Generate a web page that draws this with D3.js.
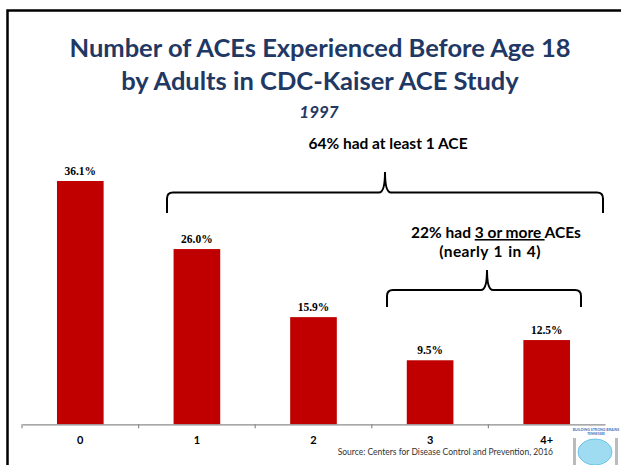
<!DOCTYPE html>
<html>
<head>
<meta charset="utf-8">
<script src="https://cdn.jsdelivr.net/npm/d3@7"></script>
<style>
  body { margin: 0; background: #fff; }
  svg { display: block; }
</style>
</head>
<body>
<svg width="621" height="465"></svg>
<script>
const categories = ['0', '1', '2', '3', '4+']
const values = [36.1, 26.0, 15.9, 9.5, 12.5]
const valueLabels = ['36.1%', '26.0%', '15.9%', '9.5%', '12.5%']

const titleLines = ['Number of ACEs Experienced Before Age 18', 'by Adults in CDC-Kaiser ACE Study']
const subtitle = '1997'
const source = 'Source: Centers for Disease Control and Prevention, 2016'

const navy = '#1f3864'
const barColor = '#c00000'
const sans = 'Lato, "Open Sans", sans-serif'

const svg = d3.select('svg')

// frame
svg.append('path')
  .attr('d', 'M7.5,465 V10.5 H621')
  .attr('fill', 'none')
  .attr('stroke', '#000')
  .attr('stroke-width', 2.5)

// title
svg.selectAll('.title')
  .data(titleLines)
  .join('text')
  .attr('class', 'title')
  .attr('x', 320)
  .attr('y', (d, i) => 57 + i * 32.5)
  .attr('text-anchor', 'middle')
  .attr('font-family', sans)
  .attr('font-weight', 'bold')
  .attr('font-size', 25.5)
  .attr('fill', navy)
  .text(d => d)

svg.append('text')
  .attr('x', 319)
  .attr('y', 118)
  .attr('text-anchor', 'middle')
  .attr('font-family', sans)
  .attr('font-weight', 'bold')
  .attr('font-style', 'italic')
  .attr('font-size', 17)
  .attr('fill', navy)
  .text(subtitle)

// scales
const x = d3.scaleBand()
  .domain(categories)
  .range([22, 605])
  .paddingInner(0.6)
  .paddingOuter(0.3)

const y = d3.scaleLinear()
  .domain([0, 40])
  .range([424.3, 154.7])

// bars
svg.selectAll('.bar')
  .data(values)
  .join('rect')
  .attr('class', 'bar')
  .attr('x', (d, i) => x(categories[i]))
  .attr('y', d => y(d))
  .attr('width', x.bandwidth())
  .attr('height', d => y(0) - y(d))
  .attr('fill', barColor)

svg.selectAll('.val')
  .data(values)
  .join('text')
  .attr('class', 'val')
  .attr('x', (d, i) => x(categories[i]) + x.bandwidth() / 2)
  .attr('y', d => y(d) - 6)
  .attr('text-anchor', 'middle')
  .attr('font-family', '"Liberation Serif", "Times New Roman", serif')
  .attr('font-weight', 'bold')
  .attr('font-size', 11.5)
  .attr('fill', '#000')
  .text((d, i) => valueLabels[i])

// x axis
const axis = svg.append('g')
  .attr('transform', `translate(0,${y(0)})`)
  .call(d3.axisBottom(x).tickSize(0).tickPadding(12))
axis.select('.domain').attr('stroke', '#8c8c8c').attr('stroke-width', 1.2)
axis.selectAll('text')
  .attr('font-family', sans)
  .attr('font-weight', 'bold')
  .attr('font-size', 11)
  .attr('fill', '#000')

const edges = d3.range(categories.length).map(i => x.range()[0] + i * x.step())
axis.selectAll('.edge')
  .data(edges)
  .join('line')
  .attr('class', 'edge')
  .attr('x1', d => d)
  .attr('x2', d => d)
  .attr('y1', 0)
  .attr('y2', 4)
  .attr('stroke', '#8c8c8c')
  .attr('stroke-width', 1.2)

// braces
const brace = (x1, x2, xm, h, yb, yt, r) =>
  `M${x1},${yb} V${h + r} Q${x1},${h} ${x1 + r},${h} H${xm - r} Q${xm},${h} ${xm},${yt}` +
  ` Q${xm},${h} ${xm + r},${h} H${x2 - r} Q${x2},${h} ${x2},${h + r} V${yb}`

svg.append('path')
  .attr('d', brace(167, 603, 385, 192.5, 213, 172, 6))
  .attr('fill', 'none')
  .attr('stroke', '#000')
  .attr('stroke-width', 2)

svg.append('path')
  .attr('d', brace(387, 581, 487, 290, 307, 270, 6))
  .attr('fill', 'none')
  .attr('stroke', '#000')
  .attr('stroke-width', 2)

// annotations
svg.append('text')
  .attr('x', 388)
  .attr('y', 149)
  .attr('text-anchor', 'middle')
  .attr('font-family', sans)
  .attr('font-weight', 'bold')
  .attr('font-size', 15.5)
  .attr('fill', '#000')
  .text('64% had at least 1 ACE')

const note = svg.append('text')
  .attr('x', 496)
  .attr('y', 238)
  .attr('text-anchor', 'middle')
  .attr('font-family', sans)
  .attr('font-weight', 'bold')
  .attr('font-size', 15.5)
  .attr('fill', '#000')
note.append('tspan').text('22% had ')
note.append('tspan').attr('text-decoration', 'underline').text('3 or more ')
note.append('tspan').text('ACEs')

svg.append('text')
  .attr('x', 490)
  .attr('y', 257)
  .attr('text-anchor', 'middle')
  .attr('font-family', sans)
  .attr('font-weight', 'bold')
  .attr('font-size', 15.5)
  .attr('word-spacing', 1)
  .attr('letter-spacing', 0.4)
  .attr('fill', '#000')
  .text('(nearly 1 in 4)')

// source
svg.append('text')
  .attr('x', 553)
  .attr('y', 455)
  .attr('text-anchor', 'end')
  .attr('font-family', sans)
  .attr('font-size', 8.5)
  .attr('fill', '#333')
  .text(source)

// logo
const logo = svg.append('g')
logo.append('rect').attr('x', 573).attr('y', 438).attr('width', 3).attr('height', 27).attr('fill', '#bbb')
logo.append('rect').attr('x', 615).attr('y', 438).attr('width', 3).attr('height', 27).attr('fill', '#bbb')
logo.append('ellipse')
  .attr('cx', 595).attr('cy', 452).attr('rx', 17).attr('ry', 13)
  .attr('fill', '#9fdcf2').attr('stroke', '#6cc4e6').attr('stroke-width', 1)
logo.append('text')
  .attr('x', 596).attr('y', 431)
  .attr('text-anchor', 'middle')
  .attr('font-family', sans).attr('font-weight', 'bold').attr('font-size', 3.6)
  .attr('fill', '#4a6fb5')
  .text('BUILDING STRONG BRAINS')
logo.append('text')
  .attr('x', 596).attr('y', 435)
  .attr('text-anchor', 'middle')
  .attr('font-family', sans).attr('font-weight', 'bold').attr('font-size', 3.2)
  .attr('fill', '#4a6fb5')
  .text('TENNESSEE')
</script>
</body>
</html>
